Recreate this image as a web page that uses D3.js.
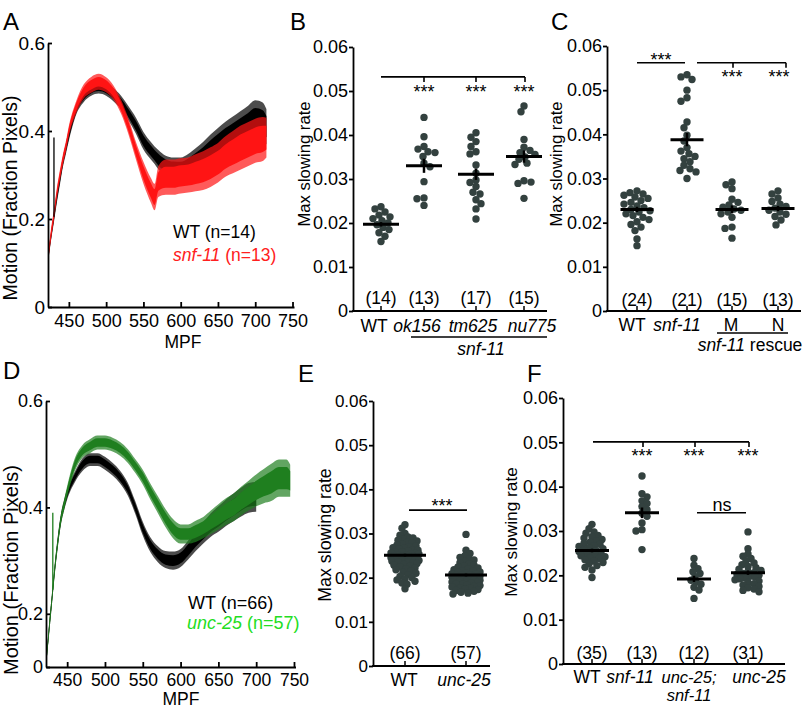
<!DOCTYPE html>
<html><head><meta charset="utf-8">
<script src="https://cdn.jsdelivr.net/npm/d3@7"></script>
<style>body{margin:0;background:#fff} svg{display:block}</style>
</head><body><svg id="c" width="810" height="715"></svg>
<script>
// ================= DATA =================
const mpfTicks = [450, 500, 550, 600, 650, 700, 750];
const motionTicksA = [0, 0.2, 0.4, 0.6];
const motionLabelsA = ["0", "0.2", "0.4", "0.6"];
const motionTicksD = [0.1, 0.2, 0.4, 0.6];
const motionLabelsD = ["0", "0.2", "0.4", "0.6"];
const rateTicks = [0, 0.01, 0.02, 0.03, 0.04, 0.05, 0.06];
const rateLabels = ["0", "0.01", "0.02", "0.03", "0.04", "0.05", "0.06"];

// Panel A traces (MPF, mean motion, noise half-width)
const mpfA = [422,426,430,434,438,442,446,450,460,470,480,490,500,510,520,530,540,550,560,565,570,580,590,600,610,620,630,640,650,660,670,680,690,700,710,715];
const wtA_mean = [0.11,0.16,0.205,0.25,0.29,0.33,0.36,0.39,0.45,0.48,0.495,0.50,0.495,0.482,0.465,0.44,0.412,0.378,0.355,0.345,0.335,0.322,0.316,0.315,0.322,0.333,0.345,0.36,0.372,0.385,0.395,0.405,0.415,0.425,0.42,0.41];
const wtA_noise = [0.01,0.01,0.012,0.012,0.012,0.012,0.012,0.012,0.012,0.014,0.015,0.015,0.015,0.015,0.015,0.016,0.018,0.02,0.02,0.02,0.022,0.022,0.024,0.025,0.026,0.028,0.03,0.032,0.035,0.036,0.038,0.04,0.042,0.045,0.045,0.04];
const snfA_mean = [0.11,0.165,0.21,0.26,0.30,0.335,0.365,0.40,0.455,0.49,0.505,0.512,0.505,0.487,0.455,0.41,0.355,0.305,0.265,0.25,0.285,0.295,0.295,0.298,0.30,0.305,0.31,0.318,0.328,0.342,0.352,0.362,0.37,0.378,0.382,0.385];
const snfA_noise = [0.01,0.012,0.012,0.012,0.012,0.012,0.012,0.012,0.014,0.016,0.018,0.018,0.017,0.016,0.016,0.018,0.02,0.025,0.028,0.03,0.035,0.04,0.04,0.04,0.04,0.042,0.044,0.045,0.045,0.046,0.048,0.05,0.05,0.05,0.05,0.045];
const spikeA = [430, 0.385];

// Panel D traces
const mpfD_wt = [422,426,430,434,438,442,446,450,460,470,480,490,500,510,520,530,540,550,560,570,580,590,600,610,620,630,640,650,660,670,680,690,700];
const wtD_mean = [0.10,0.17,0.23,0.29,0.34,0.38,0.405,0.425,0.457,0.48,0.49,0.49,0.483,0.472,0.457,0.435,0.40,0.36,0.33,0.312,0.302,0.30,0.305,0.32,0.338,0.352,0.367,0.378,0.39,0.40,0.41,0.418,0.42];
const wtD_noise = [0.01,0.01,0.01,0.01,0.01,0.01,0.01,0.01,0.01,0.012,0.012,0.012,0.012,0.012,0.012,0.012,0.012,0.013,0.014,0.015,0.016,0.017,0.017,0.018,0.02,0.02,0.022,0.024,0.025,0.026,0.027,0.028,0.028];
const mpfD_unc = [422,426,430,434,438,442,446,450,460,470,480,490,500,510,520,530,540,550,560,570,580,590,600,610,620,630,640,650,660,670,680,690,700,710,720,730,740,745];
const uncD_mean = [0.10,0.17,0.23,0.29,0.34,0.38,0.405,0.43,0.48,0.505,0.515,0.522,0.522,0.518,0.51,0.497,0.478,0.457,0.43,0.405,0.38,0.36,0.35,0.35,0.355,0.362,0.372,0.382,0.392,0.40,0.412,0.422,0.432,0.44,0.447,0.455,0.455,0.45];
const uncD_noise = [0.01,0.01,0.01,0.01,0.01,0.01,0.01,0.01,0.012,0.012,0.013,0.013,0.013,0.013,0.013,0.013,0.013,0.014,0.015,0.016,0.017,0.018,0.018,0.018,0.02,0.02,0.022,0.024,0.025,0.026,0.027,0.028,0.03,0.032,0.035,0.035,0.035,0.03];
const spikeD = [431, 0.39];

// Panel B
const catsB = ["WT", "ok156", "tm625", "nu775"];
const italB = [false, true, true, true];
const countsB = ["(14)", "(13)", "(17)", "(15)"];
const B_WT = [0.0237,0.0232,0.0225,0.0218,0.0214,0.0210,0.0205,0.0200,0.0196,0.0190,0.0185,0.0178,0.0170,0.0158];
const B_ok156 = [0.0440,0.0396,0.0374,0.0368,0.0362,0.0351,0.0360,0.0336,0.0328,0.0294,0.0257,0.0255,0.0240];
const B_tm625 = [0.0405,0.0395,0.0385,0.0374,0.0362,0.0357,0.0332,0.0313,0.0298,0.0292,0.0283,0.0270,0.0266,0.0253,0.0244,0.0232,0.0209];
const B_nu775 = [0.0466,0.0453,0.0390,0.0372,0.0365,0.0360,0.0356,0.0350,0.0345,0.0336,0.0333,0.0296,0.0293,0.0290,0.0256];
const meansB = [0.0197, 0.0330, 0.0311, 0.0351];
const semsB = [0.0005, 0.0016, 0.0013, 0.0014];

// Panel C
const catsC = ["WT", "snf-11", "M", "N"];
const italC = [false, true, false, false];
const countsC = ["(24)", "(21)", "(15)", "(13)"];
const C_WT = [0.0272,0.0268,0.0265,0.0262,0.0258,0.0255,0.0250,0.0246,0.0242,0.0238,0.0234,0.0230,0.0227,0.0224,0.0220,0.0216,0.0212,0.0207,0.0202,0.0196,0.0190,0.0182,0.0163,0.0148];
const C_snf11 = [0.0535,0.0530,0.0524,0.0500,0.0483,0.0475,0.0428,0.0415,0.0398,0.0385,0.0370,0.0362,0.0356,0.0350,0.0345,0.0338,0.0330,0.0322,0.0318,0.0315,0.0300];
const C_M = [0.0292,0.0286,0.0277,0.0253,0.0246,0.0240,0.0235,0.0231,0.0228,0.0224,0.0220,0.0212,0.0190,0.0187,0.0165];
const C_N = [0.0272,0.0265,0.0256,0.0248,0.0242,0.0237,0.0233,0.0228,0.0224,0.0219,0.0214,0.0206,0.0195];
const meansC = [0.0230, 0.0388, 0.0230, 0.0232];
const semsC = [0.0006, 0.0015, 0.0009, 0.0006];

// Panel E
const catsE = ["WT", "unc-25"];
const italE = [false, true];
const countsE = ["(66)", "(57)"];
const E_WT = [0.0320,0.0312,0.0300,0.0296,0.0292,0.0290,0.0287,0.0285,0.0283,0.0280,0.0278,0.0276,0.0274,0.0272,0.0270,0.0268,0.0267,0.0265,0.0263,0.0262,0.0260,0.0259,0.0258,0.0256,0.0255,0.0254,0.0253,0.0252,0.0251,0.0250,0.0249,0.0248,0.0247,0.0246,0.0245,0.0244,0.0243,0.0242,0.0241,0.0240,0.0239,0.0238,0.0237,0.0236,0.0235,0.0234,0.0232,0.0230,0.0228,0.0226,0.0224,0.0222,0.0220,0.0218,0.0215,0.0212,0.0210,0.0207,0.0203,0.0200,0.0197,0.0195,0.0192,0.0188,0.0185,0.0175];
const E_unc25 = [0.0298,0.0262,0.0255,0.0250,0.0246,0.0243,0.0240,0.0237,0.0234,0.0231,0.0228,0.0226,0.0224,0.0222,0.0220,0.0218,0.0216,0.0215,0.0213,0.0212,0.0210,0.0209,0.0208,0.0207,0.0206,0.0205,0.0204,0.0203,0.0202,0.0201,0.0200,0.0199,0.0198,0.0197,0.0196,0.0195,0.0194,0.0193,0.0192,0.0190,0.0189,0.0188,0.0186,0.0185,0.0183,0.0182,0.0180,0.0179,0.0177,0.0176,0.0174,0.0173,0.0171,0.0169,0.0167,0.0165,0.0163];
const meansE = [0.0251, 0.0206];
const semsE = [0.0003, 0.0003];

// Panel F
const catsF = ["WT", "snf-11", "unc-25; snf-11", "unc-25"];
const countsF = ["(35)", "(13)", "(12)", "(31)"];
const F_WT = [0.0315,0.0305,0.0298,0.0295,0.0290,0.0287,0.0284,0.0281,0.0278,0.0275,0.0272,0.0270,0.0267,0.0265,0.0262,0.0260,0.0258,0.0256,0.0254,0.0252,0.0250,0.0248,0.0246,0.0244,0.0242,0.0240,0.0238,0.0235,0.0232,0.0229,0.0226,0.0222,0.0218,0.0212,0.0195];
const F_snf11 = [0.0424,0.0384,0.0377,0.0368,0.0362,0.0355,0.0348,0.0340,0.0333,0.0318,0.0303,0.0300,0.0258];
const F_double = [0.0238,0.0223,0.0215,0.0208,0.0204,0.0197,0.0189,0.0185,0.0180,0.0173,0.0167,0.0148];
const F_unc25 = [0.0298,0.0260,0.0248,0.0243,0.0238,0.0233,0.0228,0.0224,0.0220,0.0217,0.0214,0.0211,0.0208,0.0206,0.0204,0.0202,0.0200,0.0198,0.0196,0.0194,0.0192,0.0190,0.0187,0.0184,0.0181,0.0178,0.0175,0.0172,0.0169,0.0166,0.0163];
const meansF = [0.0256, 0.0341, 0.0192, 0.0206];
const semsF = [0.0004, 0.0012, 0.0007, 0.0005];

// ================= DRAWING =================
const FF = '"Liberation Sans", Arial, Helvetica, sans-serif';
const svg = d3.select('#c').style('font-family', FF);
const DOT = '#33413f';

function txt(g, x, yc, parts, fs, anchor, color) {
  const t = g.append('text').attr('x', x).attr('y', yc + 0.355 * fs)
    .attr('font-size', fs).attr('text-anchor', anchor || 'middle')
    .attr('fill', color || '#000').attr('font-family', FF);
  parts.forEach(p => t.append('tspan').text(p[0]).attr('font-style', p[1] ? 'italic' : 'normal'));
  return t;
}
function vtxt(g, x, yc, s, fs) {
  g.append('text').attr('transform', `translate(${x},${yc}) rotate(-90)`)
    .attr('y', 0.355 * fs).attr('text-anchor', 'middle').attr('font-size', fs)
    .attr('font-family', FF).text(s);
}
function letter(x, yb, s) {
  svg.append('text').attr('x', x).attr('y', yb).attr('font-size', 24).attr('font-family', FF).text(s);
}
function styleAxis(sel, fs) {
  sel.selectAll('path,line').attr('stroke', '#000').attr('stroke-width', 1.8);
  sel.selectAll('text').attr('font-size', fs).attr('font-family', FF).attr('fill', '#000');
  sel.attr('font-family', FF);
}

function drawBand(g, x, y, mpf, mean, noise, color, ymin) {
  const pts = mpf.map((m, i) => ({ m, v: mean[i], s: noise[i] }));
  const cl = v => y(Math.max(v, ymin));
  const outer = d3.area().x(d => x(d.m)).y0(d => cl(d.v - d.s)).y1(d => cl(d.v + d.s)).curve(d3.curveMonotoneX);
  const inner = d3.area().x(d => x(d.m)).y0(d => cl(d.v - d.s * 0.6)).y1(d => cl(d.v + d.s * 0.6)).curve(d3.curveMonotoneX);
  g.append('path').datum(pts).attr('d', outer).attr('fill', color).attr('opacity', 0.7);
  g.append('path').datum(pts).attr('d', inner).attr('fill', color).attr('opacity', 1);
}

function tracePanel(c) {
  const g = svg.append('g');
  const x = d3.scaleLinear().domain([422, 752]).range(c.xr);
  const y = d3.scaleLinear().domain(c.yd).range(c.yr);
  c.series.forEach(s => drawBand(g, x, y, s.mpf, s.mean, s.noise, s.color, c.yd[0]));
  const sp = c.spike;
  const si = c.series[c.spikeSeries];
  const base = d3.scaleLinear().domain(si.mpf).range(si.mean)(sp[0]);
  g.append('line').attr('x1', x(sp[0])).attr('x2', x(sp[0])).attr('y1', y(base)).attr('y2', y(sp[1]))
    .attr('stroke', c.spikeColor).attr('stroke-width', 1.3);
  const xa = d3.axisBottom(x).tickValues(mpfTicks).tickFormat(d3.format('d')).tickSize(-5).tickSizeOuter(0).tickPadding(c.xPad);
  const xg = g.append('g').attr('transform', `translate(0,${c.yr[0]})`).call(xa);
  styleAxis(xg, c.xfs);
  const ya = d3.axisLeft(y).tickValues(c.yTicks).tickFormat((d, i) => c.yLabels[i]).tickSize(-4).tickSizeOuter(0).tickPadding(3);
  const yg = g.append('g').attr('transform', `translate(${c.xr[0]},0)`).call(ya);
  styleAxis(yg, c.yfs);
  vtxt(g, c.title[0], c.title[1], 'Motion (Fraction Pixels)', c.title[2]);
  txt(g, c.mpf[0], c.mpf[1], [['MPF', false]], 17.5);
  c.legend.forEach(l => txt(g, l.x, l.y, l.parts, l.fs, 'start', l.color));
}

function swarm(vals, y, cx, minD, maxHalf) {
  const pts = vals.map(v => ({ v, py: y(v) })).sort((a, b) => a.py - b.py);
  const placed = [];
  pts.forEach((p, idx) => {
    let best = 0, bestScore = -1, found = false;
    const signs = idx % 2 ? [-1, 1] : [1, -1];
    for (let k = 0; k <= maxHalf && !found; k += 1) {
      for (const sg of (k === 0 ? [1] : signs)) {
        const off = sg * k;
        let md = Infinity;
        for (const q of placed) { const d = Math.hypot(q.px - (cx + off), q.py - p.py); if (d < md) md = d; }
        if (md >= minD) { best = off; found = true; break; }
        if (md > bestScore) { bestScore = md; best = off; }
      }
    }
    p.px = cx + best;
    placed.push(p);
  });
  return placed;
}

function dotPanel(c) {
  const g = svg.append('g');
  const y = d3.scaleLinear().domain([0, 0.06]).range([c.yb, c.yt]);
  const x = d3.scaleOrdinal().domain(c.cats).range(c.catX);
  const ya = d3.axisLeft(y).tickValues(rateTicks).tickFormat((d, i) => rateLabels[i]).tickSize(4).tickSizeOuter(0).tickPadding(1);
  const yg = g.append('g').attr('transform', `translate(${c.ax},0)`).call(ya);
  styleAxis(yg, c.tfs);
  g.append('line').attr('x1', c.ax - 0.9).attr('x2', c.axEnd).attr('y1', c.yb).attr('y2', c.yb).attr('stroke', '#000').attr('stroke-width', 1.8);
  c.cats.forEach(k => g.append('line').attr('x1', x(k)).attr('x2', x(k)).attr('y1', c.yb).attr('y2', c.yb - 5).attr('stroke', '#000').attr('stroke-width', 1.5));
  c.groups.forEach((vals, i) => {
    const pts = swarm(vals, y, x(c.cats[i]), c.minD, c.maxHalf);
    g.selectAll(null).data(pts).enter().append('circle')
      .attr('cx', d => d.px).attr('cy', d => d.py).attr('r', 3.7).attr('fill', DOT);
  });
  c.cats.forEach((k, i) => {
    const cx = x(k), m = c.means[i], s = c.sems[i];
    g.append('line').attr('x1', cx - c.mw).attr('x2', cx + c.mw).attr('y1', y(m)).attr('y2', y(m)).attr('stroke', '#000').attr('stroke-width', 3);
    g.append('line').attr('x1', cx).attr('x2', cx).attr('y1', y(m - s)).attr('y2', y(m + s)).attr('stroke', '#000').attr('stroke-width', 2.5);
  });
  c.cats.forEach((k, i) => {
    txt(g, x(k), c.countY, [[c.counts[i], false]], c.lfs);
    c.labels[i].forEach((line, j) => txt(g, c.labX[i], c.labY + j * 18.5, line, c.labels[i].length > 1 ? 16.5 : c.lfs));
  });
  vtxt(g, c.title[0], c.title[1], 'Max slowing rate', c.title[2]);
  return { g, x, y };
}
function stars(g, x, yc) {
  g.append('text').attr('x', x).attr('y', yc + 9.5).attr('text-anchor', 'middle').attr('font-size', 18)
    .attr('font-family', FF).text('***');
}
function hline(g, x1, x2, y) {
  g.append('line').attr('x1', x1).attr('x2', x2).attr('y1', y).attr('y2', y).attr('stroke', '#000').attr('stroke-width', 1.6);
}
function vline(g, x, y1, y2) {
  g.append('line').attr('x1', x).attr('x2', x).attr('y1', y1).attr('y2', y2).attr('stroke', '#000').attr('stroke-width', 1.6);
}

// ---- Panel A ----
tracePanel({
  xr: [48, 294], yd: [0, 0.6], yr: [307, 43], yTicks: motionTicksA, yLabels: motionLabelsA,
  xfs: 18, yfs: 19, xPad: 7.5,
  series: [
    { mpf: mpfA, mean: wtA_mean, noise: wtA_noise, color: '#000' },
    { mpf: mpfA, mean: snfA_mean, noise: snfA_noise, color: '#ff1414' }
  ],
  spike: spikeA, spikeSeries: 0, spikeColor: '#000',
  title: [10, 198, 19.5], mpf: [183, 342],
  legend: [
    { x: 173, y: 232, parts: [['WT (n=14)', false]], fs: 17.5, color: '#000' },
    { x: 173, y: 255, parts: [['snf-11', true], [' (n=13)', false]], fs: 17.5, color: '#ff2020' }
  ]
});
// ---- Panel D ----
tracePanel({
  xr: [46, 295.5], yd: [0.1, 0.6], yr: [667, 401], yTicks: motionTicksD, yLabels: motionLabelsD,
  xfs: 17.5, yfs: 18, xPad: 6.5,
  series: [
    { mpf: mpfD_wt, mean: wtD_mean, noise: wtD_noise, color: '#000' },
    { mpf: mpfD_unc, mean: uncD_mean, noise: uncD_noise, color: '#1f7f1f' }
  ],
  spike: spikeD, spikeSeries: 1, spikeColor: '#1f7f1f',
  title: [11, 570, 20], mpf: [181, 699],
  legend: [
    { x: 188, y: 603, parts: [['WT (n=66)', false]], fs: 18, color: '#000' },
    { x: 187, y: 623, parts: [['unc-25', true], [' (n=57)', false]], fs: 18, color: '#22dd22' }
  ]
});

// ---- Panel B ----
const pB = dotPanel({
  cats: catsB, catX: [381, 424, 476, 524], labX: [374, 417, 473, 532], groups: [B_WT, B_ok156, B_tm625, B_nu775],
  means: meansB, sems: semsB, counts: countsB,
  labels: catsB.map((k, i) => [[[k, italB[i]]]]),
  ax: 353, axEnd: 547, yb: 311, yt: 47, tfs: 18, lfs: 17.5, minD: 6.3, maxHalf: 13, mw: 18,
  countY: 298, labY: 326, title: [304, 164, 16.7]
});
{
  const { g, x, y } = pB;
  hline(g, x('WT'), x('nu775') + 1, y(0.0532));
  ['ok156', 'tm625', 'nu775'].forEach(k => { vline(g, x(k) + (k === 'nu775' ? 1 : 0), y(0.0532), y(0.0532) + 5); stars(g, x(k), y(0.0505)); });
  hline(g, 411, 547, 337);
  txt(g, 481, 349, [['snf-11', true]], 17.5);
}

// ---- Panel C ----
const pC = dotPanel({
  cats: catsC, catX: [637, 687, 732, 778], labX: [632, 677, 731, 778], groups: [C_WT, C_snf11, C_M, C_N],
  means: meansC, sems: semsC, counts: countsC,
  labels: catsC.map((k, i) => [[[k, italC[i]]]]),
  ax: 607, axEnd: 801, yb: 311, yt: 46, tfs: 18, lfs: 17.5, minD: 6.3, maxHalf: 13, mw: 16.5,
  countY: 300, labY: 325, title: [556, 164, 16.7]
});
{
  const { g, x, y } = pC;
  hline(g, x('WT'), x('snf-11') - 2, y(0.0562));
  stars(g, 661, y(0.0577));
  hline(g, x('snf-11') + 10, x('N') + 8, y(0.0562));
  vline(g, x('M') + 1, y(0.0562), y(0.0562) + 5);
  vline(g, x('N') + 8, y(0.0562), y(0.0562) + 5);
  stars(g, x('M'), y(0.0537));
  stars(g, x('N') + 1, y(0.0537));
  hline(g, 717, 788, 333);
  txt(g, 750, 345, [['snf-11', true], [' rescue', false]], 17.5);
}

// ---- Panel E ----
const pE = dotPanel({
  cats: catsE, catX: [405, 466], labX: [404, 464], groups: [E_WT, E_unc25],
  means: meansE, sems: semsE, counts: countsE,
  labels: catsE.map((k, i) => [[[k, italE[i]]]]),
  ax: 373, axEnd: 490, yb: 666, yt: 401, tfs: 17, lfs: 17.5, minD: 4.6, maxHalf: 14, mw: 21,
  countY: 653, labY: 680, title: [325, 535, 17.8]
});
{
  const { g, x, y } = pE;
  hline(g, x('WT') + 4, x('unc-25') + 1, y(0.0353));
  stars(g, 442, y(0.0371));
}

// ---- Panel F ----
const pF = dotPanel({
  cats: catsF, catX: [592, 642, 694, 748], labX: [587, 630, 689, 759], groups: [F_WT, F_snf11, F_double, F_unc25],
  means: meansF, sems: semsF, counts: countsF,
  labels: [[[['WT', false]]], [[['snf-11', true]]], [[['unc-25;', true]], [['snf-11', true]]], [[['unc-25', true]]]],
  ax: 563, axEnd: 785, yb: 664, yt: 398, tfs: 18, lfs: 17.5, minD: 5.2, maxHalf: 13, mw: 17,
  countY: 653, labY: 677, title: [511, 532, 17.3]
});
{
  const { g, x, y } = pF;
  const yl = y(0.0501);
  hline(g, x('WT') + 1, x('unc-25') + 1, yl);
  ['snf-11', 'unc-25; snf-11', 'unc-25'].forEach(k => { vline(g, x(k) + 1, yl, yl + 5); stars(g, x(k), y(0.0476)); });
  const yn = y(0.0341);
  hline(g, x('unc-25; snf-11') + 3, x('unc-25') - 2, yn);
  txt(g, 722, y(0.0359), [['ns', false]], 18);
}

letter(3, 30, 'A'); letter(290, 30, 'B'); letter(551, 30, 'C');
letter(3, 379, 'D'); letter(298, 382, 'E'); letter(527, 382, 'F');
</script>
</body></html>
